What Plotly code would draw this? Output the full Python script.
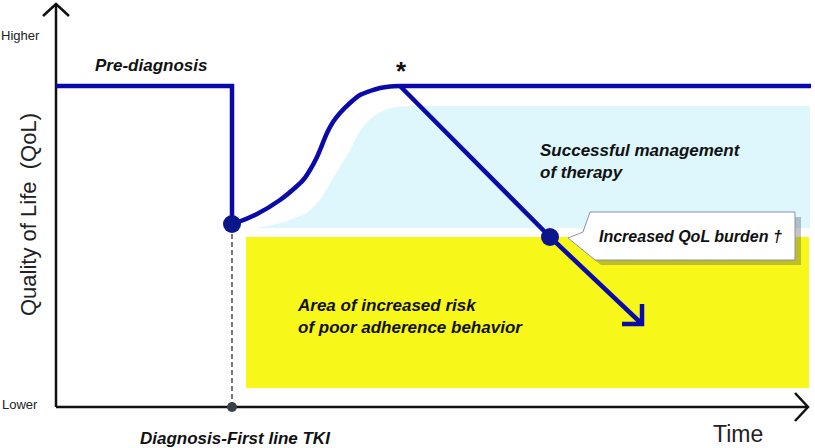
import plotly.graph_objects as go

# ---- conceptual data (arbitrary units: time on x, QoL on y) ----
pre_x = [0, 176, 176]
pre_y = [321, 321, 183]

recovery_x = [176, 181, 201, 224, 241, 248, 254, 261, 264, 271, 277, 284, 294, 304, 314, 324, 334, 344]
recovery_y = [183, 184.5, 193, 207, 221, 228, 237, 250, 257, 274, 285, 294, 304, 312, 316, 319, 320.5, 321]

plateau_x = [344, 755]
plateau_y = [321, 321]

decline_x = [344, 494, 586]
decline_y = [321, 170, 83]
arrowhead_x = [566, 586, 586]
arrowhead_y = [83, 83, 103]

marker_x = [176, 494]
marker_y = [183, 170]

diag_x = [176, 176]
diag_y = [0, 183]

success_x = [199, 207, 229, 251, 264, 274, 284, 294, 299, 306, 314, 324, 334, 344, 354, 754, 754, 199]
success_y = [179, 180, 185, 194, 207, 224, 241, 257, 267, 279, 288, 295, 299, 300.5, 301, 301, 179, 179]

risk_x = [190, 753, 753, 190, 190]
risk_y = [19, 19, 170, 170, 19]

callout_x = [534, 739, 739, 539, 512, 527, 534]
callout_y = [195, 195, 147, 147, 169, 175, 195]

yaxis_x = [0, 0]
yaxis_y = [0, 403]
yhead_x = [-13, 0, 13]
yhead_y = [391, 403, 391]
xaxis_x = [0, 752]
xaxis_y = [0, 0]
xhead_x = [739, 752, 739]
xhead_y = [14, 0, -14]

BLUE = "#0a0aaa"
NAVY = "#0c168c"
FONT = "Liberation Sans, Arial, sans-serif"

fig = go.Figure()

# background areas
fig.add_trace(go.Scatter(x=success_x, y=success_y, fill="toself", fillcolor="#def7fc",
                         line=dict(width=0), mode="lines", hoverinfo="skip"))
fig.add_trace(go.Scatter(x=risk_x, y=risk_y, fill="toself", fillcolor="#f7f71a",
                         line=dict(width=0), mode="lines", hoverinfo="skip"))

# callout shadow + box
fig.add_trace(go.Scatter(x=[v + 6 for v in callout_x], y=[v - 5 for v in callout_y],
                         fill="toself", fillcolor="rgba(60,60,70,0.30)",
                         line=dict(width=0), mode="lines", hoverinfo="skip"))
fig.add_trace(go.Scatter(x=callout_x, y=callout_y, fill="toself", fillcolor="white",
                         line=dict(width=1, color="#8a90b0"), mode="lines", hoverinfo="skip"))

# axes
for ax_x, ax_y in [(yaxis_x, yaxis_y), (yhead_x, yhead_y), (xaxis_x, xaxis_y), (xhead_x, xhead_y)]:
    fig.add_trace(go.Scatter(x=ax_x, y=ax_y, mode="lines",
                             line=dict(color="#111111", width=2.5), hoverinfo="skip"))

# diagnosis dashed line
fig.add_trace(go.Scatter(x=diag_x, y=diag_y, mode="lines",
                         line=dict(color="#222222", width=1.2, dash="5px,3px"), hoverinfo="skip"))

# QoL trajectories
fig.add_trace(go.Scatter(x=pre_x, y=pre_y, mode="lines", line=dict(color=BLUE, width=4.5)))
fig.add_trace(go.Scatter(x=recovery_x, y=recovery_y, mode="lines",
                         line=dict(color=BLUE, width=4.5, shape="spline", smoothing=0.8)))
fig.add_trace(go.Scatter(x=plateau_x, y=plateau_y, mode="lines", line=dict(color=BLUE, width=4.5)))
fig.add_trace(go.Scatter(x=decline_x, y=decline_y, mode="lines", line=dict(color=BLUE, width=4.5)))
fig.add_trace(go.Scatter(x=arrowhead_x, y=arrowhead_y, mode="lines",
                         line=dict(color=BLUE, width=4.5)))

# markers
fig.add_trace(go.Scatter(x=marker_x, y=marker_y, mode="markers",
                         marker=dict(color=NAVY, size=18, line=dict(width=0))))
fig.add_trace(go.Scatter(x=[diag_x[0]], y=[diag_y[0]], mode="markers",
                         marker=dict(color="#3a3f44", size=10, line=dict(width=0))))

def txt(x, y, s, size, xanchor="center", bold_italic=False, color="#111111", angle=0):
    if bold_italic:
        s = "<b><i>" + s.replace("<br>", "</i></b><br><b><i>") + "</i></b>"
    fig.add_annotation(x=x, y=y, text=s, showarrow=False, xanchor=xanchor, yanchor="middle",
                       align="left", textangle=angle,
                       font=dict(family=FONT, size=size, color=color))

txt(-36, 372, "Higher", 13, color="#222222")
txt(-36, 3, "Lower", 13, color="#222222")
txt(-28, 192, "Quality of Life  (QoL)", 22, angle=-90, color="#222222")
txt(682, -27, "Time", 23, color="#222222")
txt(82, -31, "Diagnosis-First line TKI", 17, xanchor="left", bold_italic=True)
txt(37, 342, "Pre-diagnosis", 17, xanchor="left", bold_italic=True)
txt(345, 336, "<b>*</b>", 26)
txt(482, 246, "Successful management<br>of therapy", 17, xanchor="left", bold_italic=True)
txt(239, 91, "Area of increased risk<br>of poor adherence behavior", 17, xanchor="left", bold_italic=True)
txt(634, 171, "Increased QoL burden †", 16, bold_italic=True)

fig.update_layout(
    width=815, height=448, autosize=False,
    margin=dict(l=0, r=0, t=0, b=0),
    paper_bgcolor="white", plot_bgcolor="white",
    showlegend=False,
    xaxis=dict(range=[-56, 759], visible=False, fixedrange=True),
    yaxis=dict(range=[-41, 407], visible=False, fixedrange=True),
)

fig.write_html("out.html", config={"displayModeBar": False},
               post_script="document.body.style.margin='0';document.body.style.padding='0';")
